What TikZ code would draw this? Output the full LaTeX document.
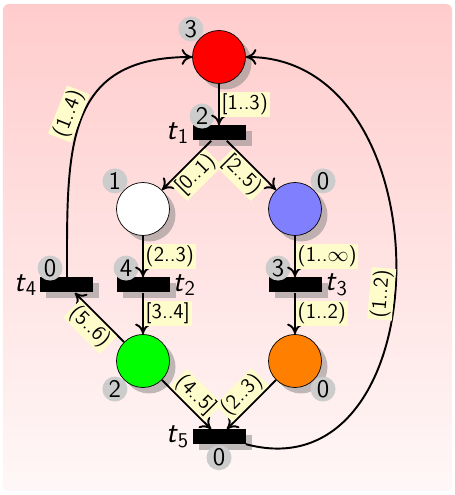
\documentclass[tikz,border=0pt]{standalone}
\usetikzlibrary{shadows,arrows.meta}
\tikzset{
  place/.style={circle, draw, minimum size=1.06cm, drop shadow={shadow xshift=0.12cm, shadow yshift=-0.12cm}},
  transition/.style={rectangle, fill=black, minimum width=1.06cm, minimum height=0.3cm, inner sep=0pt, drop shadow={shadow xshift=0.12cm, shadow yshift=-0.12cm}},
  tokens/.style={circle, fill=black!20, minimum size=0.5cm, inner sep=0pt, font=\sffamily\Large},
  tname/.style={font=\sffamily\LARGE, inner sep=1.5pt},
  arclabel/.style={fill=yellow!20, inner sep=1pt, font=\sffamily\large},
  arc/.style={line width=1.1pt, -{To[length=6pt,width=9pt]}}
}
\newcommand{\tn}[1]{\textsl{t}\textsubscript{#1}}
\begin{document}
\begin{tikzpicture}[x=1.52cm, y=1.52cm, font=\sffamily]
\useasboundingbox (-1.34cm,-1.16cm) rectangle (7.76cm,8.74cm);
\shade[top color=red!20, bottom color=red!3, rounded corners=0.12cm] (-1.28cm,-1.08cm) rectangle (7.70cm,8.66cm);

% places
\node[place, fill=red, label={[tokens]135:3}] (pr) at (2,5) {};
\node[place, fill=white, label={[tokens]135:1}] (pw) at (1,3) {};
\node[place, fill=blue!50, label={[tokens]45:0}] (pb) at (3,3) {};
\node[place, fill=green, label={[tokens]225:2}] (pg) at (1,1) {};
\node[place, fill=orange, label={[tokens]-45:0}] (po) at (3,1) {};

% transitions
\node[transition, label={[tokens]135:2}, label={[tname]left:\tn{1}}] (t1) at (2,4) {};
\node[transition, label={[tokens]135:4}, label={[tname]right:\tn{2}}] (t2) at (1,2) {};
\node[transition, label={[tokens]135:3}, label={[tname]right:\tn{3}}] (t3) at (3,2) {};
\node[transition, label={[tokens]135:0}, label={[tname]left:\tn{4}}] (t4) at (0,2) {};
\node[transition, label={[tokens]below:0}, label={[tname]left:\tn{5}}] (t5) at (2,0) {};

% arcs
\draw[arc] (pr) -- node[arclabel, right] {[1..3)} (t1);
\draw[arc] (t1) -- node[arclabel, sloped, below] {[0..1)} (pw);
\draw[arc] (t1) -- node[arclabel, sloped, below] {[2..5)} (pb);
\draw[arc] (pw) -- node[arclabel, right] {(2..3)} (t2);
\draw[arc] (pb) -- node[arclabel, right] {(1..$\infty$)} (t3);
\draw[arc] (t2) -- node[arclabel, right] {[3..4]} (pg);
\draw[arc] (t3) -- node[arclabel, right] {(1..2)} (po);
\draw[arc] (pg) -- node[arclabel, sloped, below] {(5..6)} (t4);
\draw[arc] (pg) -- node[arclabel, sloped, above] {(4..5]} (t5);
\draw[arc] (po) -- node[arclabel, sloped, above] {(2..3)} (t5);
\draw[arc] (t4) to[out=90, in=180, looseness=1.3] node[arclabel, sloped, above, pos=0.5] {(1..4)} (pr);
\draw[arc] (t5) to[out=-15, in=0, looseness=1.35] node[arclabel, sloped, above, pos=0.46] {(1..2)} (pr);
\end{tikzpicture}
\end{document}
